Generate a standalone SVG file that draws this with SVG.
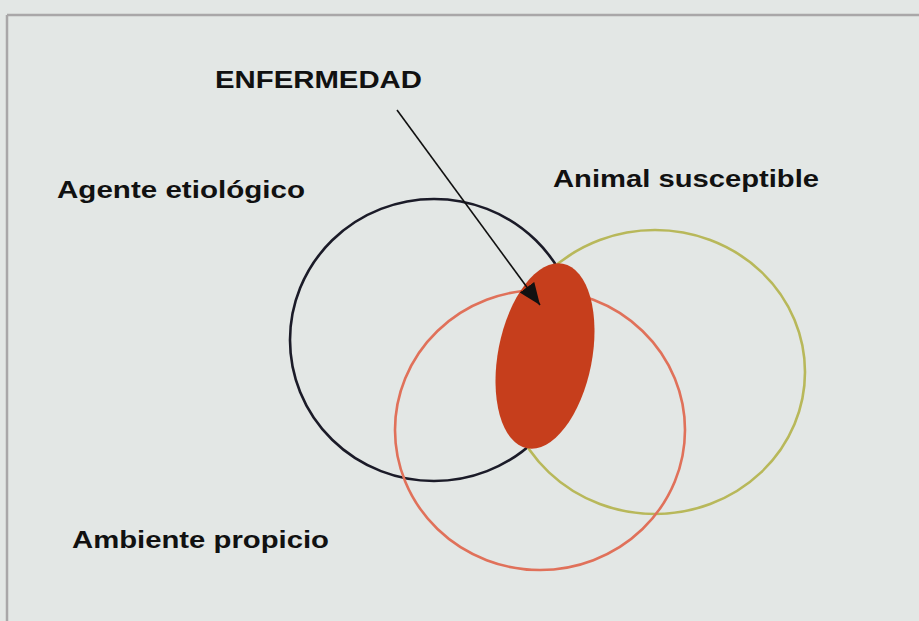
<svg xmlns="http://www.w3.org/2000/svg" width="919" height="621" viewBox="0 0 919 621">
  <defs>
    <style>
      .lbl { font-family: "Liberation Sans", Arial, sans-serif; font-weight: bold; font-size: 24.5px; fill: #111; }
      .ring { fill: none; stroke-width: 2.6; }
    </style>
    <marker id="arrowhead" markerUnits="userSpaceOnUse" markerWidth="24" markerHeight="20" refX="22" refY="10" orient="auto">
      <path d="M0,1 L22,10 L0,19 Z" fill="#111"/>
    </marker>
  </defs>
  <rect x="0" y="0" width="919" height="621" fill="#e3e7e5"/>
  <g id="frame">
    <line x1="7" y1="15" x2="919" y2="15" stroke="#a9a7a8" stroke-width="2.5"/>
    <line x1="7" y1="15" x2="7" y2="621" stroke="#a9a7a8" stroke-width="2.5"/>
  </g>
  <g id="agente">
    <ellipse class="ring" cx="434" cy="340" rx="144" ry="141" stroke="#1b1b28"/>
  </g>
  <g id="animal">
    <ellipse class="ring" cx="655" cy="372" rx="150" ry="142" stroke="#b8b85a"/>
  </g>
  <g id="ambiente">
    <ellipse class="ring" cx="540" cy="430" rx="145" ry="140" stroke="#e0715a"/>
  </g>
  <g id="enfermedad">
    <ellipse cx="545" cy="356" rx="47" ry="94" transform="rotate(11 545 356)" fill="#c63e1c"/>
  </g>
  <g id="connectors">
    <line x1="397" y1="110" x2="540" y2="305" stroke="#111" stroke-width="1.6" marker-end="url(#arrowhead)"/>
  </g>
  <g id="labels">
    <text class="lbl" x="215" y="88" textLength="207" lengthAdjust="spacingAndGlyphs">ENFERMEDAD</text>
    <text class="lbl" x="57" y="198" textLength="248" lengthAdjust="spacingAndGlyphs">Agente etiológico</text>
    <text class="lbl" x="553" y="187" textLength="266" lengthAdjust="spacingAndGlyphs">Animal susceptible</text>
    <text class="lbl" x="72" y="548" textLength="257" lengthAdjust="spacingAndGlyphs">Ambiente propicio</text>
  </g>
</svg>
